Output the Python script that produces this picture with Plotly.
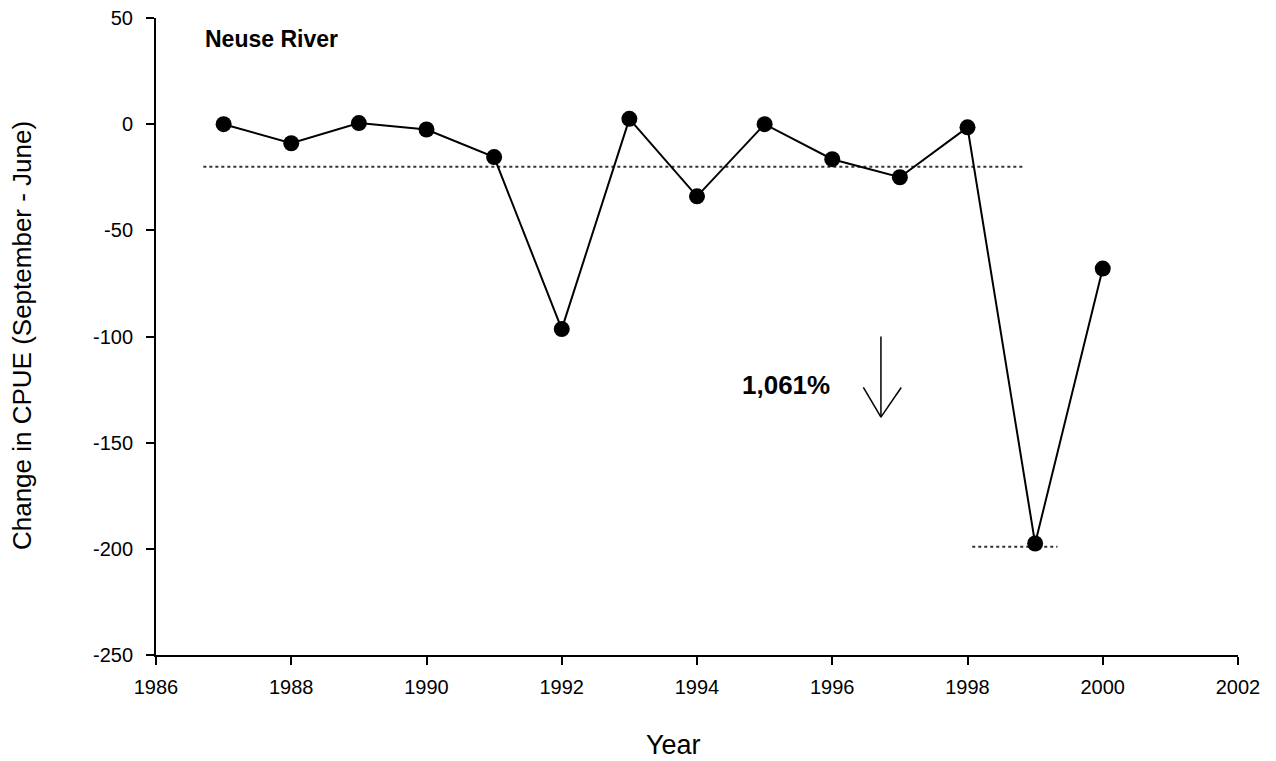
import plotly.graph_objects as go

years = [1987, 1988, 1989, 1990, 1991, 1992, 1993, 1994, 1995, 1996, 1997, 1998, 1999, 2000]
change = [0, -9, 0.5, -2.5, -15.5, -96.5, 2.5, -34, 0, -16.5, -25, -1.5, -197.5, -68]

mean_line_x = [1986.7, 1998.85]
mean_line_y = [-20, -20]
low_line_x = [1998.07, 1999.33]
low_line_y = [-199, -199]

x_ticks = [1986, 1988, 1990, 1992, 1994, 1996, 1998, 2000, 2002]
y_ticks = [50, 0, -50, -100, -150, -200, -250]
y_tick_text = ["50", "0", "-50", "-100", "-150", "-200", "-250"]

FONT = "Arial, 'Liberation Sans', sans-serif"

fig = go.Figure()
fig.add_trace(go.Scatter(x=mean_line_x, y=mean_line_y, mode="lines",
                         line=dict(color="#333333", width=2, dash="dot"), showlegend=False))
fig.add_trace(go.Scatter(x=low_line_x, y=low_line_y, mode="lines",
                         line=dict(color="#333333", width=2, dash="dot"), showlegend=False))
fig.add_trace(go.Scatter(x=years, y=change, mode="lines+markers",
                         line=dict(color="black", width=2),
                         marker=dict(color="black", size=16), showlegend=False))

# arrow
fig.add_shape(type="line", x0=1996.72, x1=1996.72, y0=-100, y1=-138, line=dict(color="black", width=1.5))
fig.add_shape(type="line", x0=1996.46, x1=1996.72, y0=-124, y1=-138, line=dict(color="black", width=1.5))
fig.add_shape(type="line", x0=1997.02, x1=1996.72, y0=-124, y1=-138, line=dict(color="black", width=1.5))

fig.add_annotation(x=1995.32, y=-123, text="<b>1,061%</b>", showarrow=False,
                   font=dict(family=FONT, size=26, color="black"))
fig.add_annotation(x=1986.7, y=40, text="<b>Neuse River</b>", showarrow=False, xanchor="left",
                   font=dict(family=FONT, size=23, color="black"))

# axis titles
fig.add_annotation(x=1993.65, y=-0.141, xref="x", yref="paper", text="Year", showarrow=False,
                   xanchor="center", yanchor="middle",
                   font=dict(family=FONT, size=27, color="black"))
fig.add_annotation(x=-0.124, y=0.502, xref="paper", yref="paper",
                   text="Change in CPUE (September - June)", textangle=-90, showarrow=False,
                   xanchor="center", yanchor="middle",
                   font=dict(family=FONT, size=26, color="black"))

fig.update_layout(
    width=1276, height=761,
    margin=dict(l=148, r=46, t=10, b=114),
    plot_bgcolor="white", paper_bgcolor="white",
    font=dict(family=FONT, size=20, color="black"),
    xaxis=dict(range=[1986, 2002], tickvals=x_ticks, showgrid=False, zeroline=False,
               showline=True, linecolor="black", linewidth=2, ticks="outside",
               ticklen=8, tickwidth=2, tickcolor="black", automargin=False,
               ticklabelstandoff=5, ticklabeloverflow="allow"),
    yaxis=dict(range=[-250, 50], tickvals=y_ticks, ticktext=y_tick_text, showgrid=False, zeroline=False,
               showline=True, linecolor="black", linewidth=2, ticks="outside",
               ticklen=8, tickwidth=2, tickcolor="black", automargin=False,
               ticklabelstandoff=9, ticklabeloverflow="allow"),
)

fig.write_html("out.html")
